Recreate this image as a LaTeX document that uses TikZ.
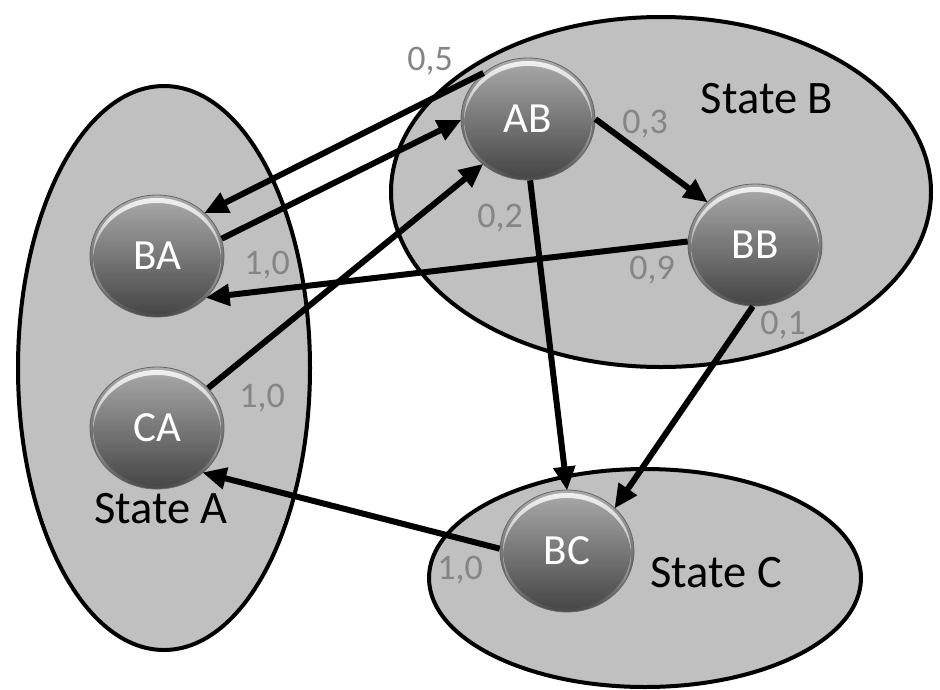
\documentclass[tikz,border=0pt]{standalone}
\usepackage{fontspec}
\setmainfont{Carlito}
\usetikzlibrary{arrows.meta,shapes.geometric,fadings}

\definecolor{regionfill}{HTML}{C0C0C0}
\definecolor{ballTop}{HTML}{ABABAB}
\definecolor{ballMid}{HTML}{929292}
\definecolor{ballBot}{HTML}{444444}
\definecolor{ballRim}{HTML}{666666}
\definecolor{probgray}{HTML}{858585}

\tikzfading[name=glare, top color=transparent!15, bottom color=transparent!100]

\tikzset{
  region/.style={draw=black, line width=4pt, fill=regionfill},
  ball/.style={ellipse, minimum width=134pt, minimum height=122pt, inner sep=0pt,
    top color=ballTop, middle color=ballMid, bottom color=ballBot,
    draw=ballRim, line width=0.8pt, text=white,
    font=\fontsize{43}{50}\selectfont,
    path picture={
      % glossy crescent along the upper rim
      \fill[white, even odd rule, path fading=glare]
        (path picture bounding box.center) ellipse [x radius=64pt, y radius=58pt]
        ([yshift=-5pt]path picture bounding box.center) ellipse [x radius=64pt, y radius=58pt];
    }},
  trans/.style={line width=6pt, -{Triangle[length=24pt,width=21pt]}, shorten >=-1pt},
  prob/.style={text=probgray, font=\fontsize{36}{42}\selectfont, inner sep=0pt},
  statename/.style={text=black, font=\fontsize{46.5}{54}\selectfont, inner sep=0pt, anchor=base}
}

\begin{document}
\begin{tikzpicture}[x=1pt, y=-1pt]
  \useasboundingbox (0,0) rectangle (940,689);

  % state regions
  \draw[region] (164,368) ellipse [x radius=146, y radius=282];
  \draw[region] (661,192) ellipse [x radius=270, y radius=175];
  \draw[region] (645,578) ellipse [x radius=216, y radius=109];

  \node[statename] (nameA) at (161,523) {State A};
  \node[statename] (nameB) at (767,113) {State B};
  \node[statename] (nameC) at (716,587) {State C};

  % states
  \node[ball] (BA) at (157,256) {BA};
  \node[ball] (CA) at (157,428) {CA};
  \node[ball] (AB) at (528,119) {AB};
  \node[ball] (BB) at (755,245) {BB};
  \node[ball] (BC) at (567,551) {BC};

  % transitions
  \draw[trans] (AB.134) -- (BA.42);
  \draw[trans] (BA.15)  -- (AB.181);
  \draw[trans] (CA.38)  -- (AB.225);
  \draw[trans] (AB.0)   -- (BB.138);
  \draw[trans] (AB.-88) -- (BC.90);
  \draw[trans] (BB.177) -- (BA.-40);
  \draw[trans] (BB.-92) -- (BC.42);
  \draw[trans] (BC.178) -- (CA.-44);

  % transition probabilities
  \node[prob] (pABBA) at (430,61)  {0,5};
  \node[prob] (pBAAB) at (267,265) {1,0};
  \node[prob] (pCAAB) at (262,398) {1,0};
  \node[prob] (pABBB) at (645,124) {0,3};
  \node[prob] (pABBC) at (500,218) {0,2};
  \node[prob] (pBBBA) at (652,270) {0,9};
  \node[prob] (pBBBC) at (783,325) {0,1};
  \node[prob] (pBCCA) at (460,570) {1,0};
\end{tikzpicture}
\end{document}
